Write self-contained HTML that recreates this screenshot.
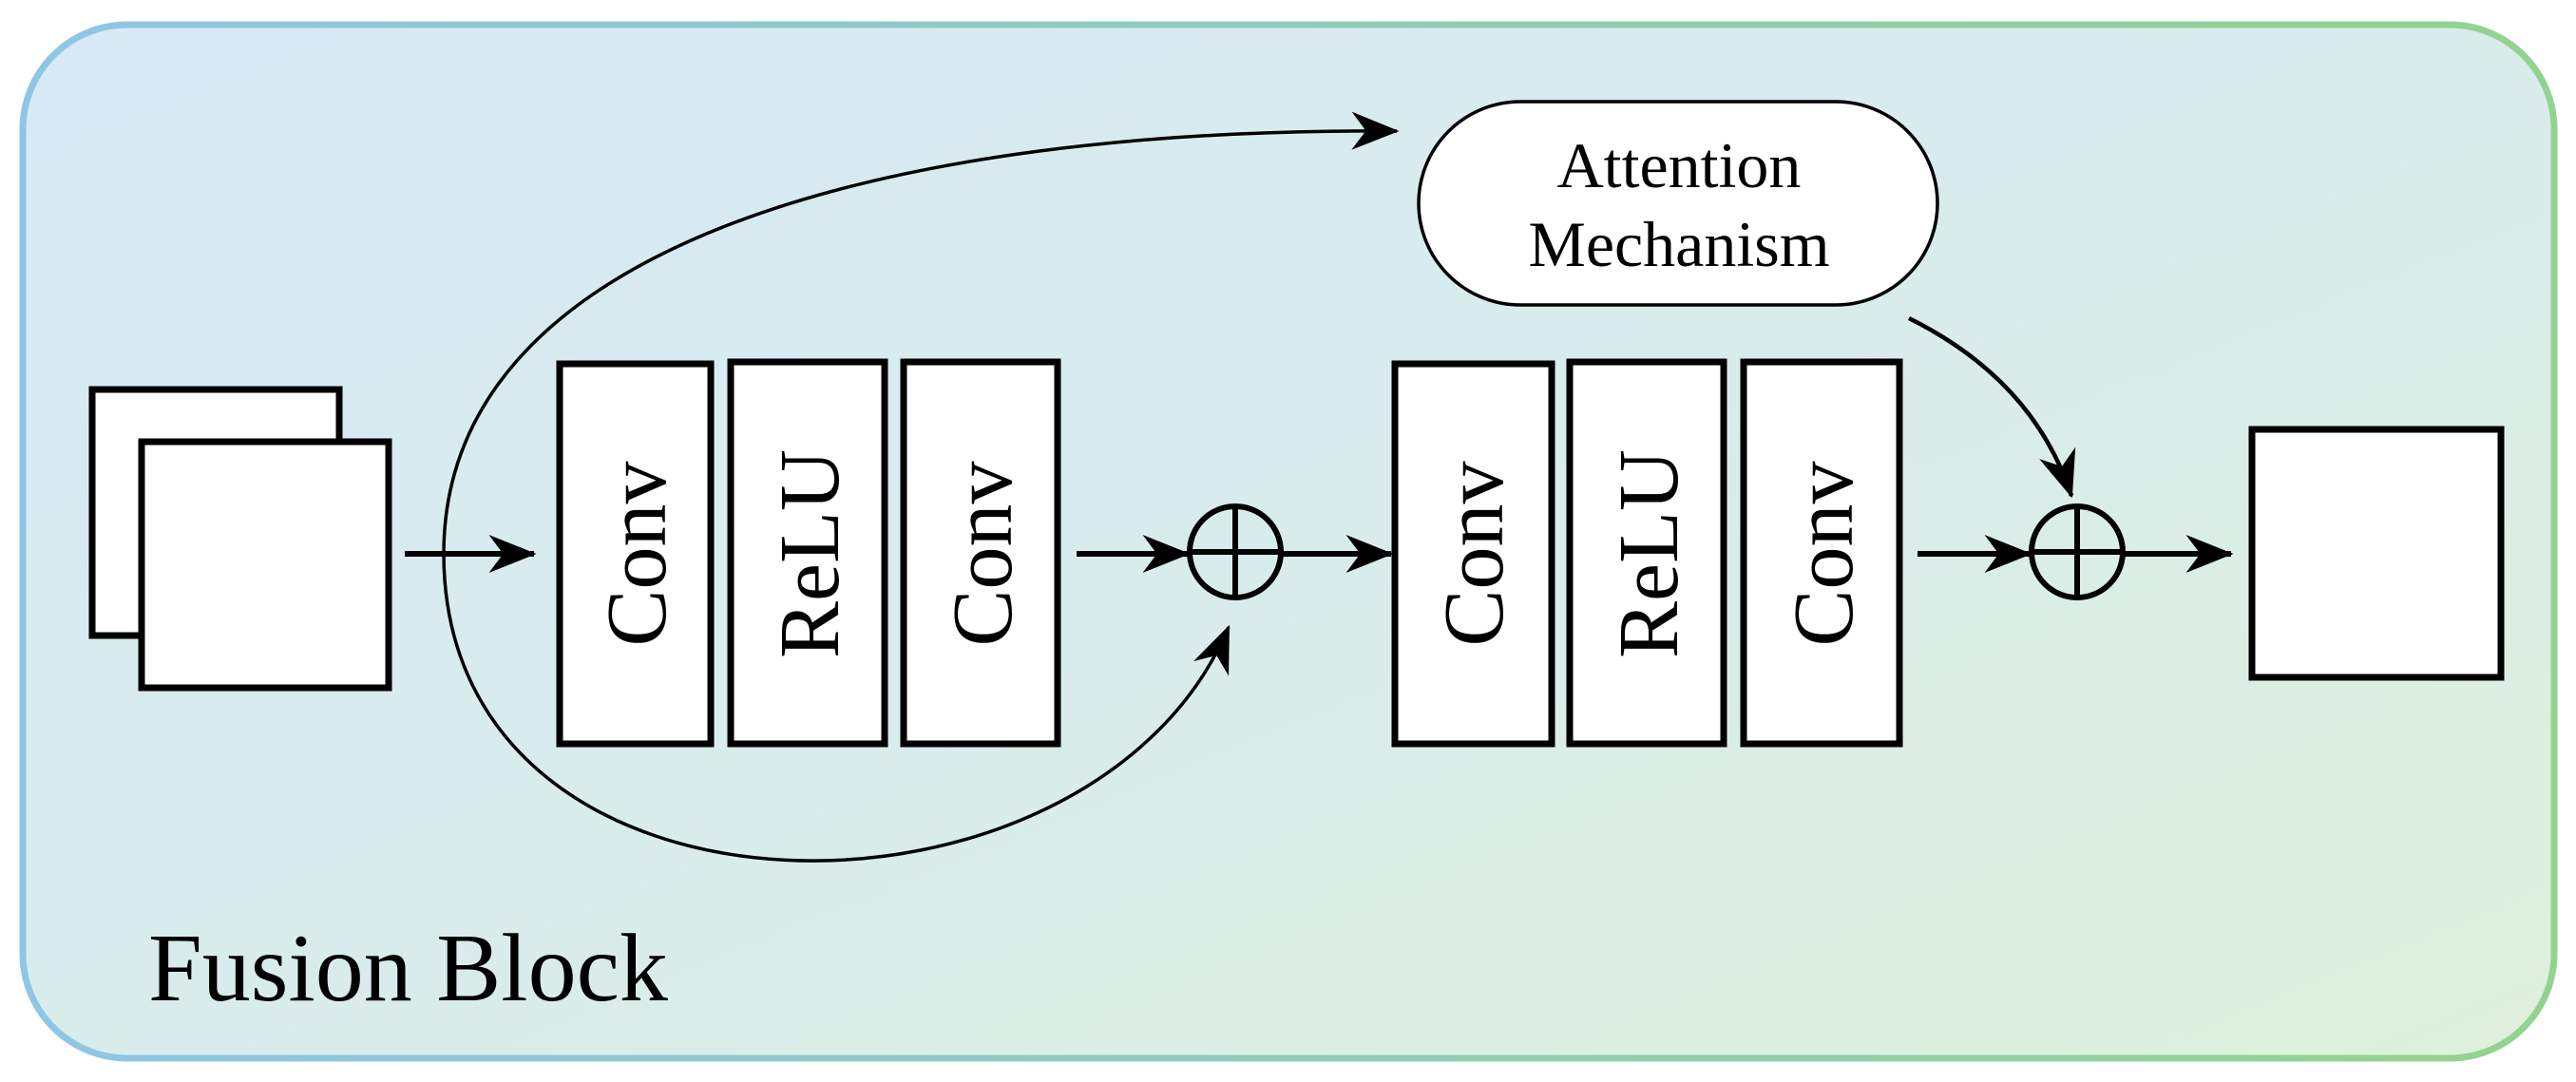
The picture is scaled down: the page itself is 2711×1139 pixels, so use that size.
<!DOCTYPE html>
<html><head><meta charset="utf-8"><style>
html,body{margin:0;padding:0;background:#fff}
svg{display:block}
text{font-family:"Liberation Serif",serif;fill:#000}
</style></head><body>
<svg width="2711" height="1139" viewBox="0 0 2711 1139" xmlns="http://www.w3.org/2000/svg">
<defs>
<linearGradient id="bg" x1="0" y1="0" x2="1" y2="1">
<stop offset="0" stop-color="#d7e9f5"/><stop offset="0.5" stop-color="#d9ecec"/><stop offset="1" stop-color="#dff0dc"/>
</linearGradient>
<linearGradient id="bd" x1="0" y1="0" x2="1" y2="0">
<stop offset="0" stop-color="#8ec6e6"/><stop offset="1" stop-color="#93d38f"/>
</linearGradient>
<marker id="ah2" viewBox="0 0 20 16" refX="19" refY="8" markerWidth="50" markerHeight="40" markerUnits="userSpaceOnUse" orient="auto">
<path d="M0,0 L20,8 L0,16 L6,8 Z" fill="#000"/>
</marker>
</defs>
<rect x="24" y="26" width="2664" height="1088" rx="110" ry="110" fill="url(#bg)" stroke="url(#bd)" stroke-width="7"/>

<rect x="97" y="410" width="260" height="259" fill="#fff" stroke="#000" stroke-width="7"/>
<rect x="149" y="465" width="260" height="259" fill="#fff" stroke="#000" stroke-width="7"/>

<path d="M467,583 C467,250 950,134 1470,138" fill="none" stroke="#000" stroke-width="3.5" marker-end="url(#ah2)"/>
<path d="M467,583 C467,1000 1150,1000 1293,660" fill="none" stroke="#000" stroke-width="3.5" marker-end="url(#ah2)"/>

<g stroke="#000" stroke-width="6" fill="none" marker-end="url(#ah2)">
<line x1="426" y1="583" x2="562" y2="583"/>
<line x1="1133" y1="583" x2="1250" y2="583"/>
<line x1="1350" y1="583" x2="1464" y2="583"/>
<line x1="2018" y1="583" x2="2136" y2="583"/>
<line x1="2236" y1="583" x2="2348" y2="583"/>
</g>
<path d="M2009,335 Q2140,400 2180,522" fill="none" stroke="#000" stroke-width="4.5" marker-end="url(#ah2)"/>

<g fill="#fff" stroke="#000" stroke-width="7">
<rect x="589" y="383" width="159" height="400"/>
<rect x="769" y="381" width="162" height="402"/>
<rect x="951" y="381" width="162" height="402"/>
<rect x="1468" y="383" width="165" height="400"/>
<rect x="1652" y="381" width="162" height="402"/>
<rect x="1835" y="381" width="164" height="402"/>
<rect x="2370" y="452" width="262" height="261"/>
</g>
<g font-size="90" text-anchor="middle">
<text transform="translate(700,583) rotate(-90)">Conv</text>
<text transform="translate(882,583) rotate(-90)">ReLU</text>
<text transform="translate(1064,583) rotate(-90)">Conv</text>
<text transform="translate(1581,583) rotate(-90)">Conv</text>
<text transform="translate(1765,583) rotate(-90)">ReLU</text>
<text transform="translate(1949,583) rotate(-90)">Conv</text>
</g>

<g stroke="#000" stroke-width="6" fill="none">
<circle cx="1300" cy="581" r="48"/>
<line x1="1300" y1="533" x2="1300" y2="629"/><line x1="1252" y1="581" x2="1348" y2="581"/>
<circle cx="2186" cy="581" r="48"/>
<line x1="2186" y1="533" x2="2186" y2="629"/><line x1="2138" y1="581" x2="2234" y2="581"/>
</g>

<rect x="1493" y="107" width="546" height="214" rx="107" ry="107" fill="#fff" stroke="#000" stroke-width="3.5"/>
<g font-size="68" text-anchor="middle">
<text x="1767" y="197">Attention</text>
<text x="1767" y="280">Mechanism</text>
</g>

<text x="156" y="1053" font-size="102">Fusion Block</text>
</svg>
</body></html>
